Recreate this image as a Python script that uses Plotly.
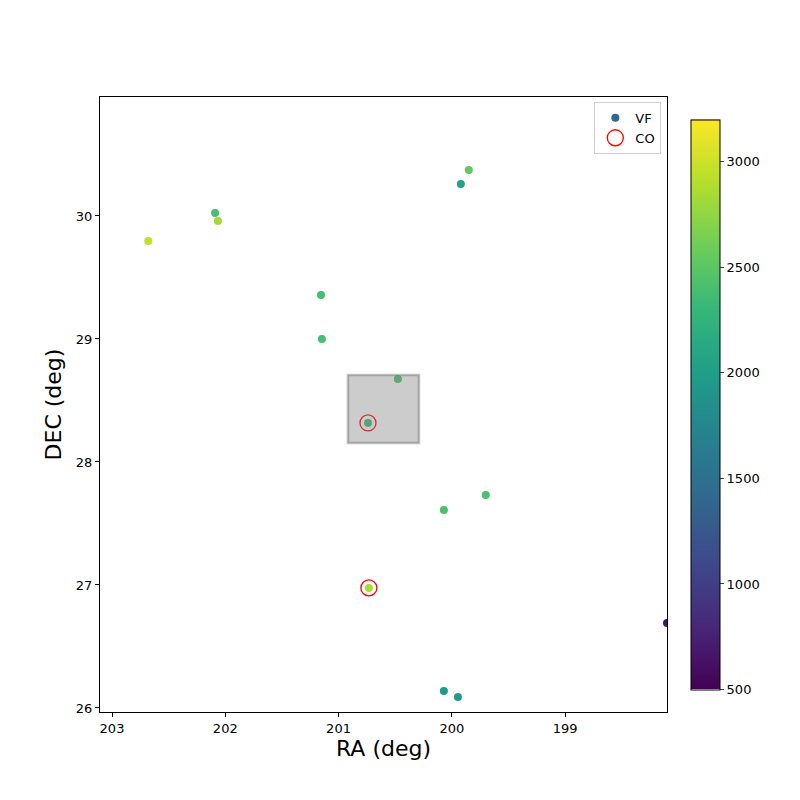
import plotly.graph_objects as go

# VF galaxies: position and velocity
vf_ra = [202.68, 202.09, 202.065, 199.92, 199.85, 201.155, 201.147, 200.476,
         200.74, 199.70, 200.07, 200.732, 200.07, 199.946, 198.10]
vf_dec = [29.797, 30.024, 29.959, 30.26, 30.374, 29.358, 29.0, 28.675,
          28.317, 27.732, 27.61, 26.976, 26.138, 26.089, 26.69]
vf_vel = [2950, 2400, 2830, 2050, 2530, 2390, 2400, 2430,
          2330, 2420, 2420, 2850, 1960, 1970, 650]

# CO sources
co_ra = [200.74, 200.732]
co_dec = [28.317, 26.976]

# highlighted box
box_ra = [200.917, 200.29]
box_dec = [28.154, 28.707]

x_ticks = [203, 202, 201, 200, 199]
y_ticks = [26, 27, 28, 29, 30]
cbar_ticks = [500, 1000, 1500, 2000, 2500, 3000]

font = "DejaVu Sans"

fig = go.Figure()

# VF scatter coloured by velocity
fig.add_trace(
    go.Scatter(
        x=vf_ra,
        y=vf_dec,
        mode="markers",
        showlegend=False,
        marker=dict(
            size=8,
            color=vf_vel,
            colorscale="Viridis",
            cmin=500,
            cmax=3200,
            line=dict(width=0),
            colorbar=dict(
                x=1.0247,
                xanchor="left",
                y=0.5,
                yanchor="middle",
                len=0.959,
                thickness=29,
                outlinewidth=1,
                outlinecolor="black",
                tickvals=cbar_ticks,
                ticks="outside",
                ticklen=4,
                tickfont=dict(family=font, size=13, color="black"),
            ),
        ),
    )
)

# legend entry for VF
fig.add_trace(
    go.Scatter(
        x=[None],
        y=[None],
        mode="markers",
        name="VF",
        marker=dict(size=8, color="#31688e"),
    )
)

# CO open circles
fig.add_trace(
    go.Scatter(
        x=co_ra,
        y=co_dec,
        mode="markers",
        name="CO",
        marker=dict(size=16, color="rgba(0,0,0,0)", line=dict(color="red", width=1.3)),
    )
)

fig.add_shape(
    type="rect",
    x0=box_ra[0],
    x1=box_ra[1],
    y0=box_dec[0],
    y1=box_dec[1],
    xref="x",
    yref="y",
    fillcolor="rgba(128,128,128,0.4)",
    line=dict(color="rgba(110,110,110,0.45)", width=2.5),
    layer="above",
)

axis_style = dict(
    showgrid=False,
    zeroline=False,
    showline=True,
    linecolor="black",
    linewidth=1,
    mirror=True,
    ticks="outside",
    ticklen=4,
    tickcolor="black",
    tickfont=dict(family=font, size=13, color="black"),
)

fig.update_xaxes(
    range=[203.106, 198.1],
    tickvals=x_ticks,
    title=dict(text="RA (deg)", font=dict(family=font, size=22, color="black"), standoff=5),
    **axis_style
)
fig.update_yaxes(
    range=[25.967, 30.967],
    tickvals=y_ticks,
    title=dict(text="DEC (deg)", font=dict(family=font, size=22, color="black"), standoff=8),
    **axis_style
)

fig.update_layout(
    width=800,
    height=800,
    paper_bgcolor="white",
    plot_bgcolor="white",
    font=dict(family=font, size=13, color="black"),
    margin=dict(l=92, r=141, t=89, b=96),
    legend=dict(
        x=0.99,
        y=0.992,
        xanchor="right",
        yanchor="top",
        bordercolor="#d0d0d0",
        borderwidth=1,
        bgcolor="rgba(255,255,255,0.8)",
        font=dict(family=font, size=13),
    ),
)

fig.write_html("out.html")
